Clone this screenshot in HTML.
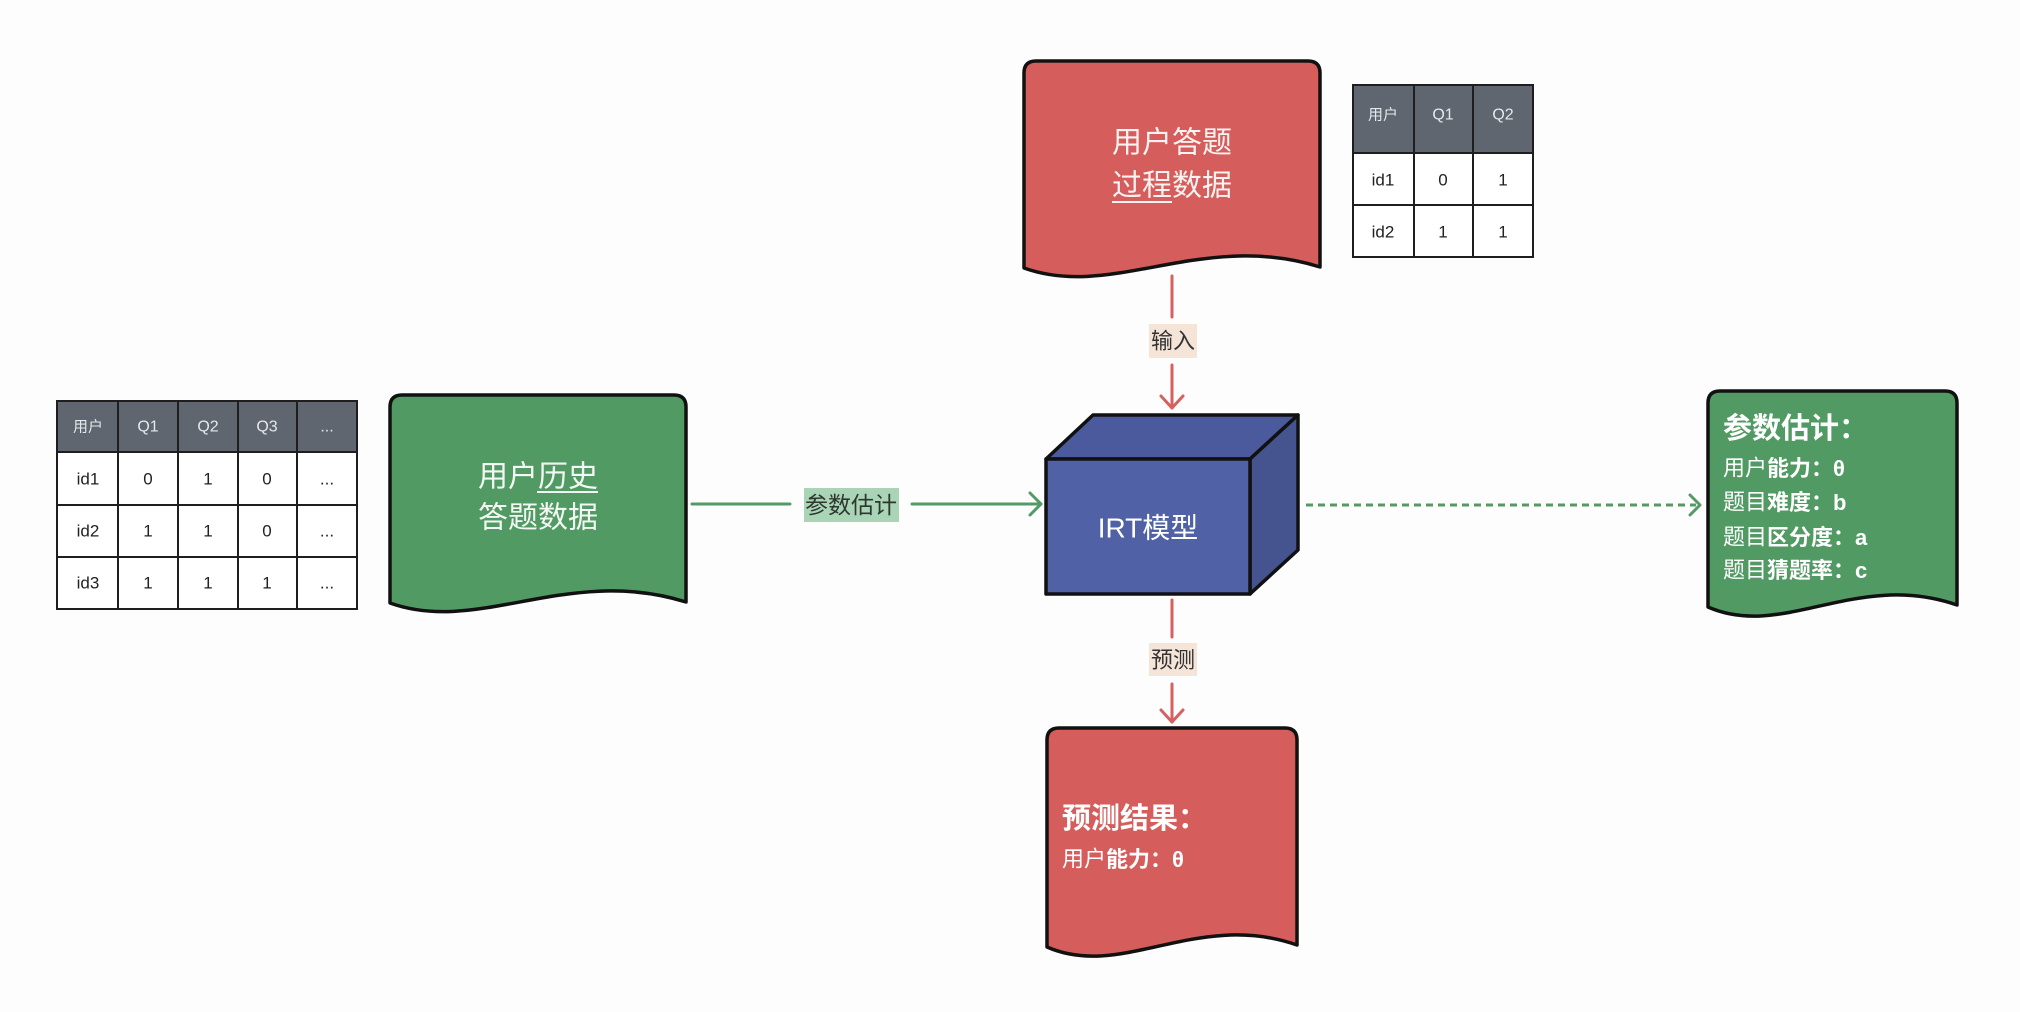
<!DOCTYPE html>
<html>
<head>
<meta charset="utf-8">
<style>
  html, body { margin:0; padding:0; background:#fdfdfd; }
  svg { display:block; }
  text { font-family: "Liberation Sans", "Noto Sans CJK SC", sans-serif; }
</style>
</head>
<body>
<svg width="2020" height="1012" viewBox="0 0 2020 1012" xmlns="http://www.w3.org/2000/svg">
  <rect x="0" y="0" width="2020" height="1012" fill="#fdfdfd"/>

  <!-- ========== Left table ========== -->
  <g>
    <rect x="57" y="401" width="300" height="51" fill="#5f6670"/>
    <rect x="57" y="452" width="300" height="157" fill="#ffffff"/>
    <g stroke="#1e1e1e" stroke-width="2" fill="none">
      <rect x="57" y="401" width="300" height="208"/>
      <line x1="118" y1="401" x2="118" y2="609"/>
      <line x1="178" y1="401" x2="178" y2="609"/>
      <line x1="238" y1="401" x2="238" y2="609"/>
      <line x1="297" y1="401" x2="297" y2="609"/>
      <line x1="57" y1="452" x2="357" y2="452"/>
      <line x1="57" y1="505" x2="357" y2="505"/>
      <line x1="57" y1="557" x2="357" y2="557"/>
    </g>
    <g font-size="16" fill="#e6e8ea" text-anchor="middle" dominant-baseline="central">
      <text x="88" y="427" font-size="15">用户</text>
      <text x="148" y="427">Q1</text>
      <text x="208" y="427">Q2</text>
      <text x="267" y="427">Q3</text>
      <text x="327" y="427">...</text>
    </g>
    <g font-size="17" fill="#222" text-anchor="middle" dominant-baseline="central">
      <text x="88" y="479">id1</text>
      <text x="148" y="479">0</text>
      <text x="208" y="479">1</text>
      <text x="267" y="479">0</text>
      <text x="327" y="479">...</text>
      <text x="88" y="531">id2</text>
      <text x="148" y="531">1</text>
      <text x="208" y="531">1</text>
      <text x="267" y="531">0</text>
      <text x="327" y="531">...</text>
      <text x="88" y="583">id3</text>
      <text x="148" y="583">1</text>
      <text x="208" y="583">1</text>
      <text x="267" y="583">1</text>
      <text x="327" y="583">...</text>
    </g>
  </g>

  <!-- ========== Top table ========== -->
  <g>
    <rect x="1353" y="85" width="180" height="68" fill="#5f6670"/>
    <rect x="1353" y="153" width="180" height="104" fill="#ffffff"/>
    <g stroke="#1e1e1e" stroke-width="2" fill="none">
      <rect x="1353" y="85" width="180" height="172"/>
      <line x1="1414" y1="85" x2="1414" y2="257"/>
      <line x1="1473" y1="85" x2="1473" y2="257"/>
      <line x1="1353" y1="153" x2="1533" y2="153"/>
      <line x1="1353" y1="205" x2="1533" y2="205"/>
    </g>
    <g font-size="16" fill="#e6e8ea" text-anchor="middle" dominant-baseline="central">
      <text x="1383" y="115" font-size="15">用户</text>
      <text x="1443" y="115">Q1</text>
      <text x="1503" y="115">Q2</text>
    </g>
    <g font-size="17" fill="#222" text-anchor="middle" dominant-baseline="central">
      <text x="1383" y="180">id1</text>
      <text x="1443" y="180">0</text>
      <text x="1503" y="180">1</text>
      <text x="1383" y="232">id2</text>
      <text x="1443" y="232">1</text>
      <text x="1503" y="232">1</text>
    </g>
  </g>

  <!-- ========== Documents ========== -->
  <!-- Left green doc -->
  <path d="M390,603 L390,407 Q390,395 402,395 L674,395 Q686,395 686,407 L686,602 C568,565 479,635 390,603 Z"
        fill="#529a64" stroke="#111" stroke-width="3.5" stroke-linejoin="round"/>
  <g font-size="30" fill="#f4f8f4" text-anchor="middle" dominant-baseline="central">
    <text x="538" y="477">用户历史</text>
    <text x="538" y="518">答题数据</text>
  </g>
  <line x1="537" y1="492" x2="598" y2="492" stroke="#f4f8f4" stroke-width="2"/>

  <!-- Top red doc -->
  <path d="M1024,268 L1024,73 Q1024,61 1036,61 L1308,61 Q1320,61 1320,73 L1320,267 C1202,230 1113,300 1024,268 Z"
        fill="#d55d5b" stroke="#111" stroke-width="3.5" stroke-linejoin="round"/>
  <g font-size="30" fill="#fbf2f2" text-anchor="middle" dominant-baseline="central">
    <text x="1172" y="143">用户答题</text>
    <text x="1172" y="186">过程数据</text>
  </g>
  <line x1="1112" y1="202" x2="1172" y2="202" stroke="#fbf2f2" stroke-width="2"/>

  <!-- Bottom red doc -->
  <path d="M1047,947 L1047,740 Q1047,728 1059,728 L1285,728 Q1297,728 1297,740 L1297,945 C1197,910 1122,980 1047,947 Z"
        fill="#d55d5b" stroke="#111" stroke-width="3.5" stroke-linejoin="round"/>
  <g fill="#ffffff" dominant-baseline="central">
    <text x="1062" y="819" font-size="29" font-weight="bold">预测结果：</text>
    <text x="1062" y="859" font-size="22">用户<tspan font-weight="bold">能力：θ</tspan></text>
  </g>

  <!-- Right green doc -->
  <path d="M1708,607 L1708,403 Q1708,391 1720,391 L1945,391 Q1957,391 1957,403 L1957,605 C1857,570 1783,640 1708,607 Z"
        fill="#529a64" stroke="#111" stroke-width="3.5" stroke-linejoin="round"/>
  <g fill="#ffffff" dominant-baseline="central">
    <text x="1723" y="429" font-size="29" font-weight="bold">参数估计：</text>
    <text x="1723" y="468" font-size="22">用户<tspan font-weight="bold">能力：θ</tspan></text>
    <text x="1723" y="502" font-size="22">题目<tspan font-weight="bold">难度：b</tspan></text>
    <text x="1723" y="537" font-size="22">题目<tspan font-weight="bold">区分度：a</tspan></text>
    <text x="1723" y="570" font-size="22">题目<tspan font-weight="bold">猜题率：c</tspan></text>
  </g>

  <!-- ========== IRT cube ========== -->
  <g stroke="#111" stroke-width="3.5" stroke-linejoin="round">
    <polygon points="1046,459 1093,415 1298,415 1250,459" fill="#4b5a9c"/>
    <polygon points="1250,459 1298,415 1298,550 1250,594" fill="#45538f"/>
    <rect x="1046" y="459" width="204" height="135" fill="#5061a5"/>
  </g>
  <text x="1148" y="528" font-size="28" fill="#ffffff" text-anchor="middle" dominant-baseline="central">IRT模型</text>

  <!-- ========== Connectors ========== -->
  <!-- Input arrow (red) -->
  <g stroke="#d6605f" stroke-width="3" fill="none" stroke-linecap="round" stroke-linejoin="round">
    <line x1="1172" y1="276" x2="1172" y2="317"/>
    <line x1="1172" y1="365" x2="1172" y2="408"/>
    <polyline points="1161,396 1172,408 1183,396"/>
  </g>
  <rect x="1149" y="324" width="48" height="34" fill="#f5e4d8"/>
  <text x="1173" y="341" font-size="22" fill="#333" text-anchor="middle" dominant-baseline="central">输入</text>

  <!-- Predict arrow (red) -->
  <g stroke="#d6605f" stroke-width="3" fill="none" stroke-linecap="round" stroke-linejoin="round">
    <line x1="1172" y1="600" x2="1172" y2="637"/>
    <line x1="1172" y1="684" x2="1172" y2="722"/>
    <polyline points="1161,710 1172,722 1183,710"/>
  </g>
  <rect x="1149" y="643" width="48" height="33" fill="#f5e4d8"/>
  <text x="1173" y="660" font-size="22" fill="#333" text-anchor="middle" dominant-baseline="central">预测</text>

  <!-- Param estimate arrow (green) -->
  <g stroke="#549a66" stroke-width="3" fill="none" stroke-linecap="round" stroke-linejoin="round">
    <line x1="692" y1="504" x2="790" y2="504"/>
    <line x1="912" y1="504" x2="1041" y2="504"/>
    <polyline points="1030,493 1041,504 1030,515"/>
  </g>
  <rect x="804" y="488" width="95" height="34" fill="#a9d5b6"/>
  <text x="851" y="505" font-size="23" fill="#2d3730" text-anchor="middle" dominant-baseline="central">参数估计</text>

  <!-- Dashed arrow (green) -->
  <g stroke="#549a66" stroke-width="3" fill="none" stroke-linejoin="round">
    <line x1="1306" y1="505" x2="1696" y2="505" stroke-dasharray="7,5"/>
    <polyline points="1690,495 1700,505 1690,515" stroke-linecap="round"/>
  </g>
</svg>
</body>
</html>
